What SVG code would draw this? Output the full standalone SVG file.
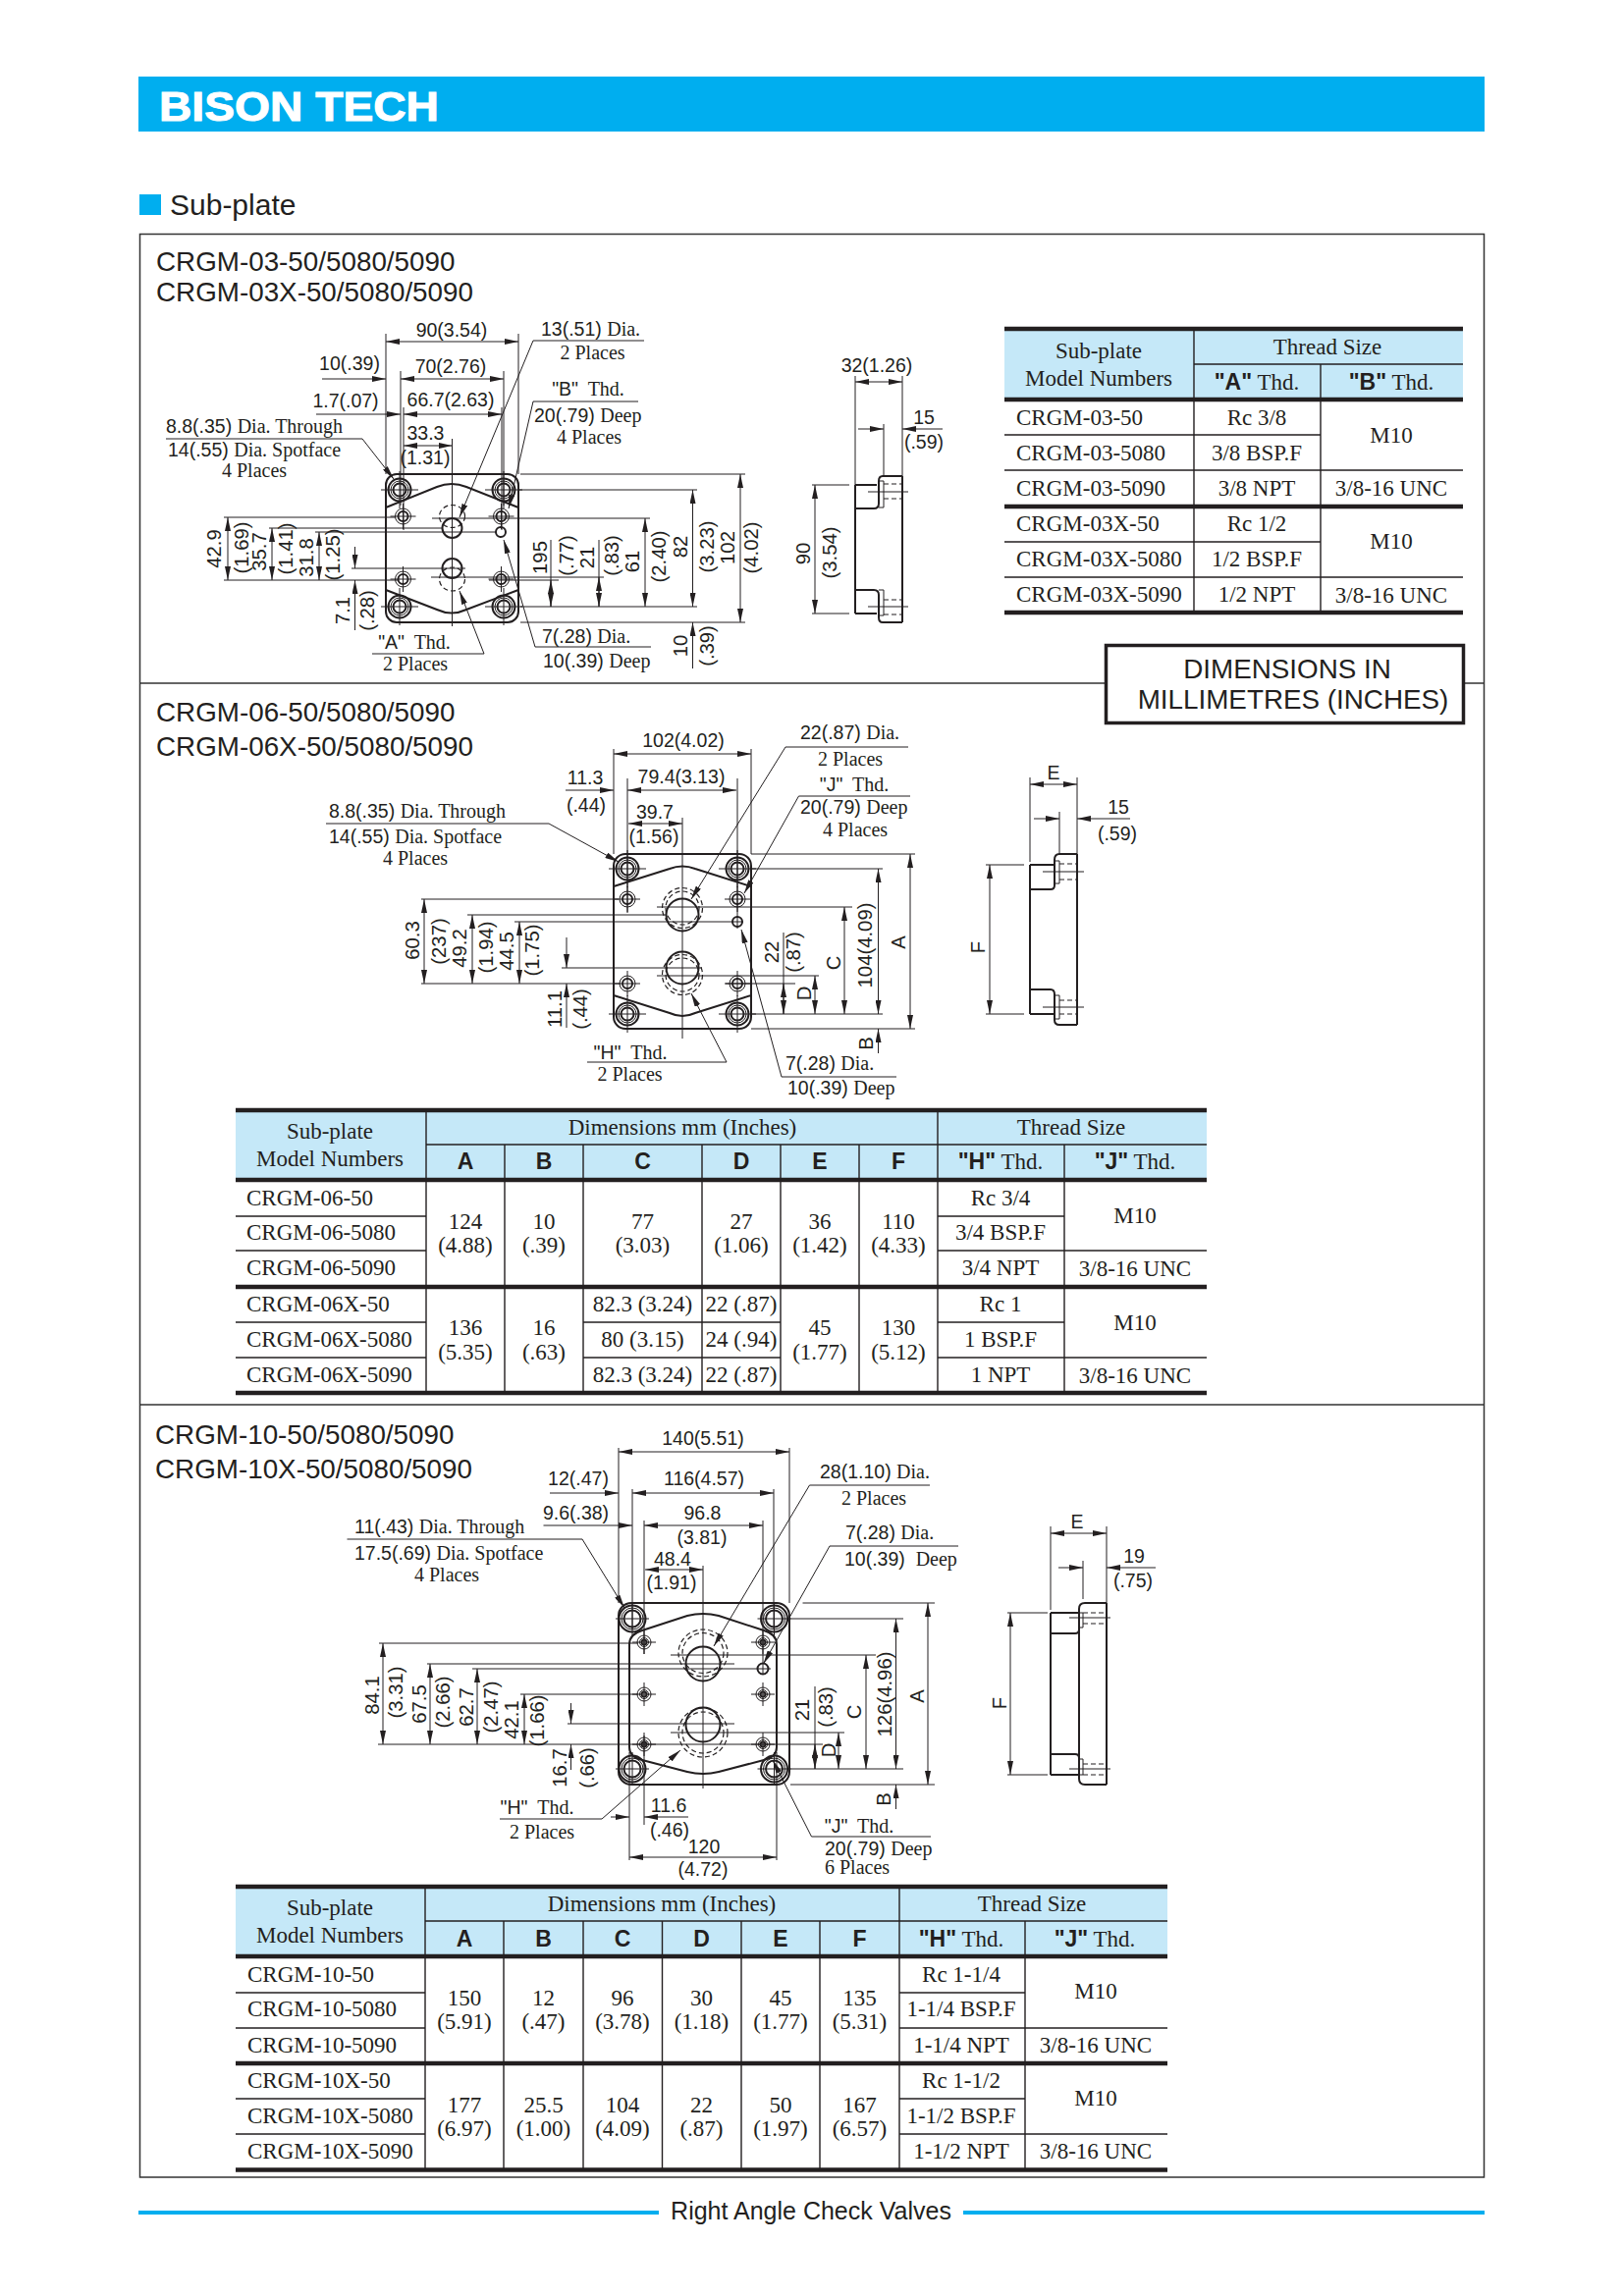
<svg xmlns="http://www.w3.org/2000/svg" xmlns:xlink="http://www.w3.org/1999/xlink" width="1653" height="2339" viewBox="0 0 1653 2339">
<style>
text{fill:#231f20;font-family:"Liberation Sans",Arial,sans-serif;font-size:19.5px}
text[transform]{font-size:20.3px}
.t{font-family:"Liberation Serif","Times New Roman",serif;font-size:20px}
tspan.t{font-family:"Liberation Serif","Times New Roman",serif;font-size:20px}
tspan.q{font-family:"Liberation Sans",Arial,sans-serif;font-size:19.5px}
.m{text-anchor:middle}
.c{font-family:"Liberation Serif","Times New Roman",serif;font-size:23px}
.b{font-family:"Liberation Sans",Arial,sans-serif;font-weight:bold;font-size:23px}
.h{font-size:27.8px}
path,line,circle,ellipse,rect{fill:none;stroke:#231f20}
.e{stroke-width:1}
.o{stroke-width:2}
.k{stroke-width:1.2;stroke-dasharray:5 3}
.d{stroke-width:1;marker-start:url(#a);marker-end:url(#a)}
.r{stroke-width:1;marker-end:url(#a)}
.l{stroke-width:1}
.g{stroke:#333;stroke-width:1.5}
.tk{stroke-width:4.5}
.tn{stroke-width:1.4}
.hd{fill:#c5e8f8;stroke:none}
.cy{fill:#00aeef;stroke:none}
</style>
<defs>
<marker id="a" markerUnits="userSpaceOnUse" markerWidth="14" markerHeight="6" refX="14" refY="3" orient="auto-start-reverse"><path d="M0 0L14 3L0 6Z" style="fill:#231f20;stroke:none"/></marker>
<g id="h1"><circle class="o" r="11.5"/><circle class="e" r="9"/><circle class="o" r="6.5"/><path class="e" d="M-19 0H19M0-19V19"/></g>
<g id="s1"><circle class="e" r="8"/><circle class="o" r="5"/><path class="e" d="M-13 0H13M0-13V13"/></g>
<g id="h3"><circle class="o" r="13.5"/><circle class="e" r="11"/><circle class="o" r="8.5"/><path class="e" d="M-17 0H17M0-17V17"/></g>
<g id="s3"><circle class="e" r="7"/><circle class="e" r="4.5"/><circle class="o" r="2.5"/><path class="e" d="M-12 0H12M0-12V12"/></g>
</defs>
<rect width="1653" height="2339" style="fill:#fff;stroke:none"/>
<g id="header">
<rect class="cy" x="141" y="78" width="1371" height="56"/>
<text x="162" y="122.5" textLength="285" lengthAdjust="spacingAndGlyphs" style="fill:#fff;font-size:42px;font-weight:bold;stroke:#fff;stroke-width:1">BISON TECH</text>
<rect class="cy" x="142" y="198" width="22" height="21"/>
<text x="173" y="219" style="font-size:30px">Sub-plate</text>
</g>
<g id="frame">
<path class="g" d="M142.500 238.500H1511.500V2218H142.500ZM142.500 696H1125M1492 696H1511.500M142.500 1431H1511.500"/>
</g>

<g id="section-03">
<text class="h" x="159" y="276">CRGM-03-50/5080/5090</text>
<text class="h" x="159" y="307">CRGM-03X-50/5080/5090</text>
<g id="plate-03">
<rect class="o" x="393" y="483" width="135" height="151" rx="11"/>
<path class="o" d="M393 517L445 496Q460 490 475 496L528 517M393 601L445 621Q460 628 475 621L528 601"/>
<use xlink:href="#h1" href="#h1" x="407" y="499"/><use xlink:href="#h1" href="#h1" x="513" y="499"/><use xlink:href="#h1" href="#h1" x="407" y="618"/><use xlink:href="#h1" href="#h1" x="513" y="618"/>
<use xlink:href="#s1" href="#s1" x="410.5" y="526"/><use xlink:href="#s1" href="#s1" x="510.5" y="526"/><use xlink:href="#s1" href="#s1" x="410.5" y="590"/><use xlink:href="#s1" href="#s1" x="510.5" y="590"/>
<circle class="o" cx="510" cy="542" r="5"/>
<circle class="o" cx="460.500" cy="538" r="10"/><circle class="o" cx="460.500" cy="579" r="10"/>
<ellipse class="k" cx="460.500" cy="526" rx="13" ry="11.500"/><ellipse class="k" cx="460.500" cy="590" rx="13" ry="12"/>
</g>
<g id="dims-03">
<path class="e" d="M393 340V483M528 340V483M408 378V515M513 378V515M411 415V540M511 415V540M460.500 447V638"/>
<path class="d" d="M393 348H528"/><path class="r" d="M328 386H393"/><path class="d" d="M408 386H513"/><path class="r" d="M322 422H408"/><path class="d" d="M411 422H511"/><path class="d" d="M411 454H460.500"/>
<path class="e" d="M228 527H403M228 591H405M274 538H450M321 542H506M358 579H474M440 528H662M439 588H615M498 591H569M528 499H710M530 618H710M530 483H759M530 634H759M561 550V618M610 550V618"/>
<path class="d" d="M232 527V591"/><path class="d" d="M277 538V591"/><path class="d" d="M325 542V591"/><path class="r" d="M361.500 557V579"/><path class="r" d="M361.500 642V591"/>
<path class="r" d="M561 604V591"/><path class="r" d="M561 604V618"/><path class="r" d="M610 604V588"/><path class="r" d="M610 604V618"/>
<path class="d" d="M657 528V618"/><path class="d" d="M705.500 499V618"/><path class="r" d="M705.500 681V634"/><path class="d" d="M754 483V634"/>
<path class="l" d="M169 447H369"/><path class="r" d="M369 447L401 488"/>
<path class="l" d="M656 347H543"/><path class="r" d="M543 347L468 527"/>
<path class="l" d="M650 409H543"/><path class="r" d="M543 409L518 518"/>
<path class="l" d="M379 666H493"/><path class="r" d="M493 666L468 602"/>
<path class="l" d="M663 659H545"/><path class="r" d="M545 659L513 550"/>
</g>
<g id="labels-03">
<text class="m" x="460" y="343">90(3.54)</text><text class="m" x="356" y="377">10(.39)</text><text class="m" x="459" y="380">70(2.76)</text><text class="m" x="352" y="415">1.7(.07)</text><text class="m" x="459" y="414">66.7(2.63)</text><text class="m" x="433.500" y="448">33.3</text><text class="m" x="433" y="473">(1.31)</text>
<text x="169" y="441">8.8(.35) <tspan class="t">Dia. Through</tspan></text><text x="171" y="465">14(.55) <tspan class="t">Dia. Spotface</tspan></text><text class="t m" x="259" y="486">4 Places</text>
<text x="551" y="342">13(.51) <tspan class="t">Dia.</tspan></text><text class="t m" x="603.500" y="366">2 Places</text>
<text class="t m" x="599" y="403"><tspan class="q">"B"</tspan>&#160; Thd.</text><text x="544" y="430">20(.79) <tspan class="t">Deep</tspan></text><text class="t m" x="600" y="452">4 Places</text>
<text class="t m" x="422" y="661"><tspan class="q">"A"</tspan>&#160; Thd.</text><text class="t m" x="423" y="683">2 Places</text>
<text x="552" y="655">7(.28) <tspan class="t">Dia.</tspan></text><text x="553" y="680">10(.39) <tspan class="t">Deep</tspan></text>
<text class="m" transform="translate(225 559) rotate(-90)">42.9</text><text class="m" transform="translate(253 558) rotate(-90)">(1.69)</text>
<text class="m" transform="translate(270.500 562) rotate(-90)">35.7</text><text class="m" transform="translate(298 559) rotate(-90)">(1.41)</text>
<text class="m" transform="translate(319 568) rotate(-90)">31.8</text><text class="m" transform="translate(346 565) rotate(-90)">(1.25)</text>
<text class="m" transform="translate(355.500 622) rotate(-90)">7.1</text><text class="m" transform="translate(381 622) rotate(-90)">(.28)</text>
<text class="m" transform="translate(556.500 568) rotate(-90)">195</text><text class="m" transform="translate(584 566) rotate(-90)">(.77)</text>
<text class="m" transform="translate(605 568) rotate(-90)">21</text><text class="m" transform="translate(630 566) rotate(-90)">(.83)</text>
<text class="m" transform="translate(651 572) rotate(-90)">61</text><text class="m" transform="translate(678 567) rotate(-90)">(2.40)</text>
<text class="m" transform="translate(700 557) rotate(-90)">82</text><text class="m" transform="translate(726.500 557) rotate(-90)">(3.23)</text>
<text class="m" transform="translate(748 558) rotate(-90)">102</text><text class="m" transform="translate(772 558) rotate(-90)">(4.02)</text>
<text class="m" transform="translate(699.500 658) rotate(-90)">10</text><text class="m" transform="translate(726.500 658) rotate(-90)">(.39)</text>
</g>
<g id="side-03">
<path class="o" d="M919 485H899Q895 485 895 490V513Q895 518 890 518H871M871 494V625M871 494H893M871 601H890Q895 601 895 606V629Q895 634 899 634H919M871 625H893M919 485V634"/>
<path class="e" d="M895 490H900V517H895M895 601H900V627H895M884 501H925M884 618H925M871 383V494M919 383V485M900 432V485M827 494H865M827 625H865"/>
<path class="k" d="M900 493H919M900 508H919M900 611H919M900 626H919"/>
<path class="d" d="M871 389H919"/><path class="r" d="M874 437H900"/><path class="r" d="M960 437H919"/><path class="d" d="M830 494V625"/>
<text class="m" x="893" y="379">32(1.26)</text><text class="m" x="941" y="432">15</text><text class="m" x="941" y="457">(.59)</text>
<text class="m" transform="translate(824.500 564) rotate(-90)">90</text><text class="m" transform="translate(852 563) rotate(-90)">(3.54)</text>
</g>
<g id="table-03">
<rect class="hd" x="1023" y="335" width="467" height="72"/>
<path class="tk" d="M1023 335H1490M1023 407H1490M1023 516H1490M1023 624H1490"/>
<path class="tn" d="M1216 335V624M1345 371V624M1216 371H1490M1023 443H1345M1023 479H1490M1023 552H1345M1023 588H1490"/>
<text class="c m" x="1119" y="365">Sub-plate</text><text class="c m" x="1119" y="393">Model Numbers</text><text class="c m" x="1352" y="361">Thread Size</text>
<text class="c m" x="1280" y="397"><tspan class="b">"A"</tspan> Thd.</text><text class="c m" x="1417" y="397"><tspan class="b">"B"</tspan> Thd.</text>
<text class="c" x="1035" y="433">CRGM-03-50</text><text class="c" x="1035" y="469">CRGM-03-5080</text><text class="c" x="1035" y="505">CRGM-03-5090</text><text class="c" x="1035" y="541">CRGM-03X-50</text><text class="c" x="1035" y="577">CRGM-03X-5080</text><text class="c" x="1035" y="613">CRGM-03X-5090</text>
<text class="c m" x="1280" y="433">Rc 3/8</text><text class="c m" x="1280" y="469">3/8 BSP.F</text><text class="c m" x="1280" y="505">3/8 NPT</text><text class="c m" x="1280" y="541">Rc 1/2</text><text class="c m" x="1280" y="577">1/2 BSP.F</text><text class="c m" x="1280" y="613">1/2 NPT</text>
<text class="c m" x="1417" y="451">M10</text><text class="c m" x="1417" y="505">3/8-16 UNC</text><text class="c m" x="1417" y="559">M10</text><text class="c m" x="1417" y="614">3/8-16 UNC</text>
</g>
<g id="note">
<rect x="1126.500" y="657.500" width="364" height="79" style="fill:#fff;stroke:#231f20;stroke-width:3.500"/>
<text class="m" x="1311" y="691" style="font-size:27.800px">DIMENSIONS IN</text><text class="m" x="1317" y="722" style="font-size:27.800px">MILLIMETRES (INCHES)</text>
</g>
</g>

<g id="section-06">
<text class="h" x="159" y="735">CRGM-06-50/5080/5090</text>
<text class="h" x="159" y="770">CRGM-06X-50/5080/5090</text>
<g id="plate-06">
<rect class="o" x="625" y="870" width="140" height="178" rx="12"/>
<path class="o" d="M625 903L682 885Q695 880 708 885L765 903M625 1014L682 1032Q695 1038 708 1032L765 1014"/>
<use xlink:href="#h1" href="#h1" x="639" y="885"/><use xlink:href="#h1" href="#h1" x="751" y="885"/><use xlink:href="#h1" href="#h1" x="639" y="1033"/><use xlink:href="#h1" href="#h1" x="751" y="1033"/>
<use xlink:href="#s1" href="#s1" x="639" y="916"/><use xlink:href="#s1" href="#s1" x="751" y="916"/><use xlink:href="#s1" href="#s1" x="639" y="1002"/><use xlink:href="#s1" href="#s1" x="751" y="1002"/>
<circle class="o" cx="751" cy="939" r="5"/>
<circle class="o" cx="695" cy="932" r="16.500"/><circle class="o" cx="695" cy="986" r="16.500"/>
<circle class="k" cx="695" cy="925" r="20.500"/><circle class="k" cx="695" cy="925" r="17"/><circle class="k" cx="695" cy="993" r="20.500"/><circle class="k" cx="695" cy="993" r="17"/>
</g>
<g id="dims-06">
<path class="e" d="M625 763V870M765 763V870M639 793V930M751 793V946M695 833V1058"/>
<path class="d" d="M625 768H765"/><path class="d" d="M639 805H750"/><path class="r" d="M576 805H625"/><path class="d" d="M640 839H695"/>
<path class="e" d="M429 916H630M429 1002H632M476 932H678M524 939H757M572 986H715M669 924H868M669 994H834M739 1002H810M765 885H899M765 1033H899M765 870H932M765 1048H932M798 950V1033"/>
<path class="d" d="M432 916V1002"/><path class="d" d="M481 932V1002"/><path class="d" d="M529 939V1002"/><path class="r" d="M577 955V986"/><path class="r" d="M577 1047V1002"/>
<path class="r" d="M798 1018V1002"/><path class="r" d="M798 1018V1033"/><path class="d" d="M830 994V1033"/><path class="d" d="M860 924V1033"/><path class="d" d="M894.500 885V1033"/><path class="r" d="M894.500 1073V1048"/><path class="d" d="M927 870V1048"/>
<path class="l" d="M332 839H559"/><path class="r" d="M559 839L630 878"/>
<path class="l" d="M925 761H800"/><path class="r" d="M800 761L704 916"/>
<path class="l" d="M927 811H813.500"/><path class="r" d="M813.500 811L758 910"/>
<path class="l" d="M598 1082H740"/><path class="r" d="M740 1082L704 1012"/>
<path class="l" d="M913 1097H796"/><path class="r" d="M796 1097L755 947"/>
</g>
<g id="labels-06">
<text class="m" x="696" y="761">102(4.02)</text><text class="m" x="694" y="798">79.4(3.13)</text><text class="m" x="596" y="799">11.3</text><text class="m" x="597" y="827">(.44)</text><text class="m" x="667" y="834">39.7</text><text class="m" x="666" y="859">(1.56)</text>
<text x="335" y="833">8.8(.35) <tspan class="t">Dia. Through</tspan></text><text x="335" y="859">14(.55) <tspan class="t">Dia. Spotface</tspan></text><text class="t m" x="423" y="881">4 Places</text>
<text x="815" y="753">22(.87) <tspan class="t">Dia.</tspan></text><text class="t m" x="866" y="780">2 Places</text><text class="t m" x="870" y="806"><tspan class="q">"J"</tspan>&#160; Thd.</text><text x="815" y="829">20(.79) <tspan class="t">Deep</tspan></text><text class="t m" x="871" y="852">4 Places</text>
<text class="t m" x="642" y="1079"><tspan class="q">"H"</tspan>&#160; Thd.</text><text class="t m" x="641.500" y="1101">2 Places</text>
<text x="800" y="1090">7(.28) <tspan class="t">Dia.</tspan></text><text x="802" y="1115">10(.39) <tspan class="t">Deep</tspan></text>
<text class="m" transform="translate(427 958) rotate(-90)">60.3</text><text class="m" transform="translate(454 959) rotate(-90)">(237)</text>
<text class="m" transform="translate(475 966) rotate(-90)">49.2</text><text class="m" transform="translate(502 965) rotate(-90)">(1.94)</text>
<text class="m" transform="translate(523 969) rotate(-90)">44.5</text><text class="m" transform="translate(548.500 968) rotate(-90)">(1.75)</text>
<text class="m" transform="translate(572 1028) rotate(-90)">11.1</text><text class="m" transform="translate(598 1028) rotate(-90)">(.44)</text>
<text class="m" transform="translate(792.500 970) rotate(-90)">22</text><text class="m" transform="translate(815 970) rotate(-90)">(.87)</text>
<text class="m" transform="translate(826 1012) rotate(-90)">D</text><text class="m" transform="translate(856 981) rotate(-90)">C</text><text class="m" transform="translate(887.500 963) rotate(-90)">104(4.09)</text><text class="m" transform="translate(889 1063) rotate(-90)">B</text><text class="m" transform="translate(922 960) rotate(-90)">A</text>
</g>
<g id="side-06">
<path class="o" d="M1097 870H1079Q1074 870 1074 876V902Q1074 906 1070 906H1049M1049 881V1033M1049 881H1073M1049 1008H1070Q1074 1008 1074 1013V1039Q1074 1044 1079 1044H1097M1049 1033H1073M1097 870V1044"/>
<path class="e" d="M1074 877H1079V900H1074M1074 1014H1079V1038H1074M1062 888H1104M1062 1026H1104M1049 792V878M1097 792V870M1079 827V870M1004 881H1043M1004 1033H1043"/>
<path class="k" d="M1079 880H1097M1079 896H1097M1079 1019H1097M1079 1033H1097"/>
<path class="d" d="M1049 799H1097"/><path class="r" d="M1053 834H1079"/><path class="r" d="M1151 834H1097"/><path class="d" d="M1008 881V1033"/>
<text class="m" x="1073" y="794">E</text><text class="m" x="1139" y="829">15</text><text class="m" x="1138" y="856">(.59)</text><text class="m" transform="translate(1003 965) rotate(-90)">F</text>
</g>
<g id="table-06">
<rect class="hd" x="240" y="1131" width="989" height="71"/>
<path class="tk" d="M240 1131H1229M240 1202H1229M240 1311H1229M240 1419H1229"/>
<path class="tn" d="M434 1131V1419M955 1131V1419M514 1166V1419M594 1166V1419M715 1166V1419M795 1166V1419M875 1166V1419M1084 1166V1419M434 1166H1229M240 1239H434M955 1239H1084M240 1274H434M955 1274H1229M240 1347H434M594 1347H795M955 1347H1084M240 1383H434M594 1383H795M955 1383H1229"/>
<text class="c m" x="336" y="1160">Sub-plate</text><text class="c m" x="336" y="1188">Model Numbers</text><text class="c m" x="695" y="1156">Dimensions mm (Inches)</text><text class="c m" x="1091" y="1156">Thread Size</text>
<text class="b m" x="474" y="1191">A</text><text class="b m" x="554" y="1191">B</text><text class="b m" x="654.500" y="1191">C</text><text class="b m" x="755" y="1191">D</text><text class="b m" x="835" y="1191">E</text><text class="b m" x="915" y="1191">F</text>
<text class="c m" x="1019" y="1191"><tspan class="b">"H"</tspan> Thd.</text><text class="c m" x="1156" y="1191"><tspan class="b">"J"</tspan> Thd.</text>
<text class="c" x="251" y="1228">CRGM-06-50</text><text class="c" x="251" y="1263">CRGM-06-5080</text><text class="c" x="251" y="1299">CRGM-06-5090</text><text class="c" x="251" y="1336">CRGM-06X-50</text><text class="c" x="251" y="1372">CRGM-06X-5080</text><text class="c" x="251" y="1408">CRGM-06X-5090</text>
<text class="c m" x="474" y="1252">124</text><text class="c m" x="474" y="1276">(4.88)</text><text class="c m" x="554" y="1252">10</text><text class="c m" x="554" y="1276">(.39)</text><text class="c m" x="654.500" y="1252">77</text><text class="c m" x="654.500" y="1276">(3.03)</text><text class="c m" x="755" y="1252">27</text><text class="c m" x="755" y="1276">(1.06)</text><text class="c m" x="835" y="1252">36</text><text class="c m" x="835" y="1276">(1.42)</text><text class="c m" x="915" y="1252">110</text><text class="c m" x="915" y="1276">(4.33)</text>
<text class="c m" x="474" y="1360">136</text><text class="c m" x="474" y="1385">(5.35)</text><text class="c m" x="554" y="1360">16</text><text class="c m" x="554" y="1385">(.63)</text>
<text class="c m" x="654.500" y="1336">82.3 (3.24)</text><text class="c m" x="654.500" y="1372">80 (3.15)</text><text class="c m" x="654.500" y="1408">82.3 (3.24)</text><text class="c m" x="755" y="1336">22 (.87)</text><text class="c m" x="755" y="1372">24 (.94)</text><text class="c m" x="755" y="1408">22 (.87)</text>
<text class="c m" x="835" y="1360">45</text><text class="c m" x="835" y="1385">(1.77)</text><text class="c m" x="915" y="1360">130</text><text class="c m" x="915" y="1385">(5.12)</text>
<text class="c m" x="1019" y="1228">Rc 3/4</text><text class="c m" x="1019" y="1263">3/4 BSP.F</text><text class="c m" x="1019" y="1299">3/4 NPT</text><text class="c m" x="1019" y="1336">Rc 1</text><text class="c m" x="1019" y="1372">1 BSP.F</text><text class="c m" x="1019" y="1408">1 NPT</text>
<text class="c m" x="1156" y="1246">M10</text><text class="c m" x="1156" y="1300">3/8-16 UNC</text><text class="c m" x="1156" y="1355">M10</text><text class="c m" x="1156" y="1409">3/8-16 UNC</text>
</g>
</g>

<g id="section-10">
<text class="h" x="158" y="1471">CRGM-10-50/5080/5090</text>
<text class="h" x="158" y="1506">CRGM-10X-50/5080/5090</text>
<g id="plate-10">
<rect class="o" x="630" y="1633" width="174" height="185" rx="13"/>
<path class="o" d="M654 1661L700 1646Q716 1642 732 1646L778 1661Q791 1665 791 1675V1780Q791 1790 778 1793L732 1805Q716 1809 700 1805L654 1793Q641 1790 641 1780V1675Q641 1665 654 1661Z"/>
<use xlink:href="#h3" href="#h3" x="644" y="1649"/><use xlink:href="#h3" href="#h3" x="788.500" y="1649"/><use xlink:href="#h3" href="#h3" x="644" y="1802"/><use xlink:href="#h3" href="#h3" x="788.500" y="1802"/>
<use xlink:href="#s3" href="#s3" x="656" y="1673"/><use xlink:href="#s3" href="#s3" x="777" y="1673"/><use xlink:href="#s3" href="#s3" x="656" y="1726"/><use xlink:href="#s3" href="#s3" x="777" y="1726"/><use xlink:href="#s3" href="#s3" x="656" y="1777"/><use xlink:href="#s3" href="#s3" x="777" y="1777"/>
<circle class="o" cx="777" cy="1700" r="5.500"/>
<circle class="o" cx="716" cy="1695" r="17.500"/><circle class="o" cx="716" cy="1757" r="17.500"/>
<ellipse class="k" cx="716" cy="1684" rx="25" ry="24"/><ellipse class="k" cx="716" cy="1684" rx="21" ry="20.500"/><ellipse class="k" cx="716" cy="1765" rx="25" ry="25"/><ellipse class="k" cx="716" cy="1765" rx="21" ry="21"/>
</g>
<g id="dims-10">
<path class="e" d="M630 1475V1633M804 1475V1633M644 1517V1660M788 1517V1660M656 1549V1685M777 1549V1705M656 1768V1859M716 1595V1822M641 1785V1895M791 1785V1895"/>
<path class="d" d="M630 1479H804"/><path class="d" d="M644 1521H788"/><path class="r" d="M560 1521H630"/><path class="d" d="M656 1554H777"/><path class="r" d="M553.500 1554H644"/><path class="d" d="M657 1599H716"/>
<path class="e" d="M386 1674H650M435 1695H748M481 1700H785M530 1726H650M578 1756H748M385 1777H838M683 1686H892M683 1765H860M801 1649H920M801 1802H920M817.500 1633H952M805 1818H952M830 1718V1802"/>
<path class="d" d="M390 1674V1777"/><path class="d" d="M438 1695V1777"/><path class="d" d="M486 1700V1777"/><path class="d" d="M534 1726V1777"/><path class="r" d="M581.500 1735V1756"/><path class="r" d="M581.500 1803V1777"/>
<path class="r" d="M830 1790V1777"/><path class="r" d="M830 1790V1802"/><path class="d" d="M854 1765V1802"/><path class="d" d="M882 1686V1802"/><path class="d" d="M912.500 1649V1802"/><path class="r" d="M912.500 1843V1818"/><path class="d" d="M945 1633V1818"/>
<path class="r" d="M622 1851H641"/><path class="r" d="M701 1851H656"/><path class="d" d="M641 1892H791"/>
<path class="l" d="M353.500 1568H593"/><path class="r" d="M593 1568L636 1638"/>
<path class="l" d="M947 1513H824.500"/><path class="r" d="M824.500 1513L727 1677"/>
<path class="l" d="M976 1575H845"/><path class="r" d="M845 1575L777.500 1695"/>
<path class="l" d="M509 1853H613"/><path class="r" d="M613 1853L693 1783"/>
<path class="l" d="M948 1871H826.500"/><path class="r" d="M826.500 1871L787 1793"/>
</g>
<g id="labels-10">
<text class="m" x="716" y="1472">140(5.51)</text><text class="m" x="717" y="1513">116(4.57)</text><text class="m" x="589" y="1513">12(.47)</text><text class="m" x="715.500" y="1548">96.8</text><text class="m" x="715" y="1573">(3.81)</text><text class="m" x="586.500" y="1548">9.6(.38)</text><text class="m" x="685" y="1595">48.4</text><text class="m" x="684" y="1619">(1.91)</text>
<text x="361" y="1562">11(.43) <tspan class="t">Dia. Through</tspan></text><text x="361" y="1589">17.5(.69) <tspan class="t">Dia. Spotface</tspan></text><text class="t m" x="455" y="1611">4 Places</text>
<text x="835" y="1506">28(1.10) <tspan class="t">Dia.</tspan></text><text class="t m" x="890" y="1533">2 Places</text>
<text x="861" y="1568">7(.28) <tspan class="t">Dia.</tspan></text><text x="860" y="1595">10(.39)&#160; <tspan class="t">Deep</tspan></text>
<text class="t m" x="547" y="1848"><tspan class="q">"H"</tspan>&#160; Thd.</text><text class="t m" x="552" y="1873">2 Places</text>
<text class="t m" x="875" y="1867"><tspan class="q">"J"</tspan>&#160; Thd.</text><text x="840" y="1890">20(.79) <tspan class="t">Deep</tspan></text><text class="t" x="840" y="1909">6 Places</text>
<text class="m" x="681" y="1846">11.6</text><text class="m" x="682" y="1871">(.46)</text><text class="m" x="717" y="1888">120</text><text class="m" x="716" y="1911">(4.72)</text>
<text class="m" transform="translate(386 1727) rotate(-90)">84.1</text><text class="m" transform="translate(410 1724) rotate(-90)">(3.31)</text>
<text class="m" transform="translate(434 1736) rotate(-90)">67.5</text><text class="m" transform="translate(458 1734) rotate(-90)">(2.66)</text>
<text class="m" transform="translate(482 1739) rotate(-90)">62.7</text><text class="m" transform="translate(506.500 1739) rotate(-90)">(2.47)</text>
<text class="m" transform="translate(528 1752) rotate(-90)">42.1</text><text class="m" transform="translate(554 1753) rotate(-90)">(1.66)</text>
<text class="m" transform="translate(577 1801) rotate(-90)">16.7</text><text class="m" transform="translate(604.500 1801) rotate(-90)">(.66)</text>
<text class="m" transform="translate(824 1742) rotate(-90)">21</text><text class="m" transform="translate(848 1739) rotate(-90)">(.83)</text>
<text class="m" transform="translate(851 1783) rotate(-90)">D</text><text class="m" transform="translate(877 1744) rotate(-90)">C</text><text class="m" transform="translate(908 1726) rotate(-90)">126(4.96)</text><text class="m" transform="translate(907 1833) rotate(-90)">B</text><text class="m" transform="translate(941 1728) rotate(-90)">A</text>
</g>
<g id="side-10">
<path class="o" d="M1127 1633H1105Q1099 1633 1099 1639V1812Q1099 1818 1105 1818H1127M1127 1633V1818M1070 1643V1808M1070 1643H1099M1070 1664H1095Q1099 1664 1099 1660M1070 1787H1095Q1099 1787 1099 1791M1070 1808H1099"/>
<path class="e" d="M1099 1643H1103V1658H1099M1099 1792H1103V1808H1099M1089 1648H1131M1089 1802H1131M1070 1555V1640M1127 1555V1633M1103 1590V1629M1026 1643H1067M1026 1808H1067"/>
<path class="k" d="M1103 1643H1127M1103 1654H1127M1103 1797H1127M1103 1808H1127"/>
<path class="d" d="M1070 1562H1127"/><path class="r" d="M1078 1597H1103"/><path class="r" d="M1177 1597H1127"/><path class="d" d="M1029 1643V1808"/>
<text class="m" x="1097" y="1557">E</text><text class="m" x="1155" y="1592">19</text><text class="m" x="1154" y="1617">(.75)</text><text class="m" transform="translate(1025 1735) rotate(-90)">F</text>
</g>
<g id="table-10">
<rect class="hd" x="240" y="1922" width="949" height="71"/>
<path class="tk" d="M240 1922H1189M240 1993H1189M240 2102H1189M240 2210.500H1189"/>
<path class="tn" d="M433 1922V2211M916 1922V2211M513 1957V2211M594 1957V2211M674.500 1957V2211M755 1957V2211M835 1957V2211M1044 1957V2211M433 1957H1189M240 2030H433M916 2030H1044M240 2066H433M916 2066H1189M240 2138H433M916 2138H1044M240 2174H433M916 2174H1189"/>
<text class="c m" x="336" y="1951">Sub-plate</text><text class="c m" x="336" y="1979">Model Numbers</text><text class="c m" x="674" y="1947">Dimensions mm (Inches)</text><text class="c m" x="1051" y="1947">Thread Size</text>
<text class="b m" x="473" y="1983">A</text><text class="b m" x="553.500" y="1983">B</text><text class="b m" x="634" y="1983">C</text><text class="b m" x="714.500" y="1983">D</text><text class="b m" x="795" y="1983">E</text><text class="b m" x="875.500" y="1983">F</text>
<text class="c m" x="979" y="1983"><tspan class="b">"H"</tspan> Thd.</text><text class="c m" x="1115" y="1983"><tspan class="b">"J"</tspan> Thd.</text>
<text class="c" x="252" y="2019">CRGM-10-50</text><text class="c" x="252" y="2054">CRGM-10-5080</text><text class="c" x="252" y="2091">CRGM-10-5090</text><text class="c" x="252" y="2127">CRGM-10X-50</text><text class="c" x="252" y="2163">CRGM-10X-5080</text><text class="c" x="252" y="2199">CRGM-10X-5090</text>
<text class="c m" x="473" y="2043">150</text><text class="c m" x="473" y="2067">(5.91)</text><text class="c m" x="553.500" y="2043">12</text><text class="c m" x="553.500" y="2067">(.47)</text><text class="c m" x="634" y="2043">96</text><text class="c m" x="634" y="2067">(3.78)</text><text class="c m" x="714.500" y="2043">30</text><text class="c m" x="714.500" y="2067">(1.18)</text><text class="c m" x="795" y="2043">45</text><text class="c m" x="795" y="2067">(1.77)</text><text class="c m" x="875.500" y="2043">135</text><text class="c m" x="875.500" y="2067">(5.31)</text>
<text class="c m" x="473" y="2152">177</text><text class="c m" x="473" y="2176">(6.97)</text><text class="c m" x="553.500" y="2152">25.5</text><text class="c m" x="553.500" y="2176">(1.00)</text><text class="c m" x="634" y="2152">104</text><text class="c m" x="634" y="2176">(4.09)</text><text class="c m" x="714.500" y="2152">22</text><text class="c m" x="714.500" y="2176">(.87)</text><text class="c m" x="795" y="2152">50</text><text class="c m" x="795" y="2176">(1.97)</text><text class="c m" x="875.500" y="2152">167</text><text class="c m" x="875.500" y="2176">(6.57)</text>
<text class="c m" x="979" y="2019">Rc 1-1/4</text><text class="c m" x="979" y="2054">1-1/4 BSP.F</text><text class="c m" x="979" y="2091">1-1/4 NPT</text><text class="c m" x="979" y="2127">Rc 1-1/2</text><text class="c m" x="979" y="2163">1-1/2 BSP.F</text><text class="c m" x="979" y="2199">1-1/2 NPT</text>
<text class="c m" x="1116" y="2036">M10</text><text class="c m" x="1116" y="2091">3/8-16 UNC</text><text class="c m" x="1116" y="2145">M10</text><text class="c m" x="1116" y="2199">3/8-16 UNC</text>
</g>
</g>

<g id="footer">
<rect class="cy" x="141" y="2252" width="530" height="4"/><rect class="cy" x="981" y="2252" width="531" height="4"/>
<text class="m" x="826" y="2261" style="font-size:25px">Right Angle Check Valves</text>
</g>
</svg>
